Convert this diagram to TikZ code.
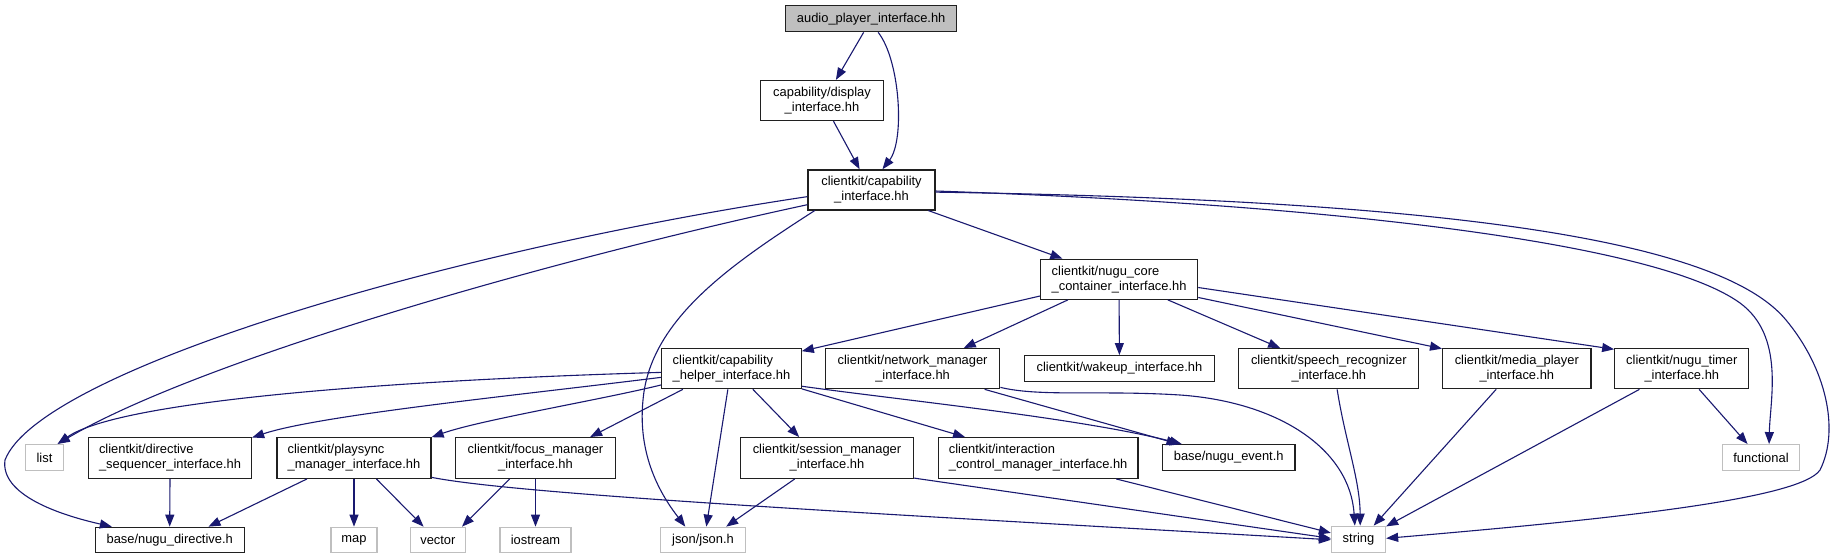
\documentclass[tikz,border=0pt]{standalone}
\usepackage{fontspec}
\setmainfont{Liberation Sans}
\usetikzlibrary{arrows.meta}
\definecolor{edgeblue}{HTML}{191970}
\definecolor{sysgray}{HTML}{BFBFBF}
\definecolor{boxline}{HTML}{202020}
\newcommand\dxfont{\fontsize{12.9}{15}\selectfont}
\begin{document}
\begin{tikzpicture}[x=1pt,y=-1pt,
  box/.style={draw=boxline,line width=1.3pt,inner sep=0pt,font=\dxfont,align=center,fill=white},
  lbox/.style={box,align=left},
  sys/.style={box,draw=sysgray},
  dep/.style={draw=edgeblue,line width=1.1pt,-{Triangle[length=12pt,width=9pt]}}]
\useasboundingbox[fill=white] (0,0) rectangle (1837,559);

% nodes
\node[box,fill=sysgray,minimum width=171pt,minimum height=26pt] (audio) at (871.2,18.7) {audio\_player\_interface.hh};
\node[box,minimum width=122.5pt,minimum height=40pt] (display) at (822,100.5) {capability/display\\\_interface.hh};
\node[box,minimum width=127pt,minimum height=40pt] (cap) at (871.5,189.9) {clientkit/capability\\\_interface.hh};
\node[lbox,minimum width=157pt,minimum height=40pt] (core) at (1119.1,279.2) {clientkit/nugu\_core\\\_container\_interface.hh};
\node[lbox,minimum width=139.4pt,minimum height=40pt] (helper) at (731.5,368.7) {clientkit/capability\\\_helper\_interface.hh};
\node[box,minimum width=174.3pt,minimum height=40pt] (network) at (912.6,368.7) {clientkit/network\_manager\\\_interface.hh};
\node[box,minimum width=190pt,minimum height=25.6pt] (wakeup) at (1119.4,368.5) {clientkit/wakeup\_interface.hh};
\node[box,minimum width=180pt,minimum height=40pt] (speech) at (1328.8,368.7) {clientkit/speech\_recognizer\\\_interface.hh};
\node[box,minimum width=148.3pt,minimum height=40pt] (media) at (1516.8,368.7) {clientkit/media\_player\\\_interface.hh};
\node[box,minimum width=134pt,minimum height=40pt] (timer) at (1681.8,368.7) {clientkit/nugu\_timer\\\_interface.hh};
\node[sys,minimum width=38pt,minimum height=26pt] (list) at (44.5,457.5) {list};
\node[lbox,minimum width=163pt,minimum height=40.6pt] (dirseq) at (170,458) {clientkit/directive\\\_sequencer\_interface.hh};
\node[lbox,minimum width=154pt,minimum height=40.6pt] (playsync) at (354,458) {clientkit/playsync\\\_manager\_interface.hh};
\node[box,minimum width=159.4pt,minimum height=40.6pt] (focus) at (535.5,458) {clientkit/focus\_manager\\\_interface.hh};
\node[box,minimum width=172.7pt,minimum height=40.6pt] (session) at (827,458) {clientkit/session\_manager\\\_interface.hh};
\node[lbox,minimum width=199.6pt,minimum height=40.6pt] (interaction) at (1038.1,458) {clientkit/interaction\\\_control\_manager\_interface.hh};
\node[box,minimum width=132.7pt,minimum height=25.6pt] (event) at (1228.7,457.5) {base/nugu\_event.h};
\node[sys,minimum width=77pt,minimum height=25.6pt] (functional) at (1761,457.5) {functional};
\node[box,minimum width=149pt,minimum height=25.4pt] (nugudir) at (169.7,540) {base/nugu\_directive.h};
\node[sys,minimum width=46pt,minimum height=25.4pt] (map) at (354,540) {map};
\node[sys,minimum width=55pt,minimum height=25.4pt] (vector) at (437.9,540) {vector};
\node[sys,minimum width=71pt,minimum height=25.4pt] (iostream) at (535.5,540) {iostream};
\node[sys,minimum width=85pt,minimum height=25.4pt] (json) at (703,540) {json/json.h};
\node[sys,minimum width=54pt,minimum height=26pt] (string) at (1358.5,539.3) {string};

% edges
\draw[dep] (audio.241) -- (display.56.6);
\draw[dep] (audio.297.6) .. controls (900,60) and (905,140) .. (cap.62.5);
\draw[dep] (display.299.9) -- (cap.120.3);
\draw[dep] (cap.340.1) -- (core.160.7);
\draw[dep] (cap.186.6) .. controls (450,250) and (40,370) .. (5,460) .. controls (0,495) and (60,515) .. (nugudir.167.8);
\draw[dep] (cap.193.4) .. controls (550,260) and (200,360) .. (list.46);
\draw[dep] (cap.200.5) .. controls (730,265) and (650,320) .. (643,400) .. controls (637,460) and (665,500) .. (json.143.2);
\draw[dep] (cap.359.3) .. controls (1350,205) and (1660,245) .. (1740,303) .. controls (1785,336) and (1770,400) .. (functional.59.3);
\draw[dep] (cap.358) .. controls (1450,200) and (1720,240) .. (1786,320) .. controls (1826,368) and (1840,430) .. (1820,470) .. controls (1800,500) and (1600,520) .. (string.2);
\draw[dep] (core.192.6) -- (helper.14.6);
\draw[dep] (core.202.9) -- (network.22.1);
\draw[dep] (core.270) -- (wakeup.90);
\draw[dep] (core.337.3) -- (speech.157.7);
\draw[dep] (core.347.4) -- (media.165.8);
\draw[dep] (core.354.1) -- (timer.164);
\draw[dep] (helper.183) .. controls (400,380) and (120,400) .. (list.46);
\draw[dep] (helper.187.4) .. controls (520,395) and (320,415) .. (dirseq.14.9);
\draw[dep] (helper.193.2) .. controls (600,400) and (480,420) .. (playsync.15.7);
\draw[dep] (helper.203.9) -- (focus.21.1);
\draw[dep] (helper.260.2) -- (json.76.7);
\draw[dep] (helper.316.6) -- (session.143.1);
\draw[dep] (helper.344.3) -- (interaction.164.5);
\draw[dep] (helper.346.1) .. controls (900,400) and (1080,418) .. (event.164.8);
\draw[dep] (network.344.1) -- (event.165.6);
\draw[dep] (network.348) .. controls (1040,397) and (1100,390) .. (1180,395) .. controls (1280,402) and (1350,450) .. (string.105);
\draw[dep] (speech.292.3) .. controls (1345,440) and (1360,480) .. (string.83.4);
\draw[dep] (media.225) -- (string.42.9);
\draw[dep] (timer.206.3) -- (string.25);
\draw[dep] (timer.310.7) -- (functional.135.4);
\draw[dep] (dirseq.270) -- (nugudir.90);
\draw[dep] (playsync.204.3) -- (nugudir.19.3);
\draw[dep] (playsync.270) -- (map.90);
\draw[dep] (playsync.317) -- (vector.137.6);
\draw[dep] (playsync.346.3) .. controls (520,495) and (900,515) .. (string.181.5);
\draw[dep] (focus.219.6) -- (vector.29.2);
\draw[dep] (focus.270) -- (iostream.90);
\draw[dep] (session.213.2) -- (json.30);
\draw[dep] (session.347.8) -- (string.178);
\draw[dep] (interaction.345.2) -- (string.167.5);
\end{tikzpicture}
\end{document}
